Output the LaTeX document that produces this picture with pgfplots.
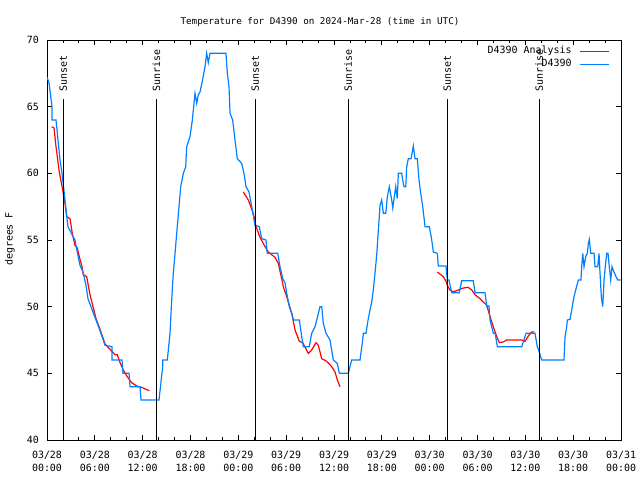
\documentclass[border=0pt]{standalone}
\usepackage{fontspec}
\setmainfont{DejaVu Sans Mono}
\usepackage{pgfplots}
\pgfplotsset{compat=1.18}
\definecolor{dblue}{RGB}{0,128,255}
\definecolor{dred}{RGB}{255,0,0}
\begin{document}
\begin{tikzpicture}[x=1bp,y=1bp]
\useasboundingbox (0,0) rectangle (640,480);
\begin{axis}[
  at={(47bp,40bp)}, anchor=south west,
  scale only axis, width=574bp, height=400bp,
  xmin=0, xmax=72, ymin=40, ymax=70,
  xtick={0,6,...,72},
  minor x tick num=2,
  ytick={40,45,...,70},
  xticklabels={{03/28\\00:00},{03/28\\06:00},{03/28\\12:00},{03/28\\18:00},{03/29\\00:00},{03/29\\06:00},{03/29\\12:00},{03/29\\18:00},{03/30\\00:00},{03/30\\06:00},{03/30\\12:00},{03/30\\18:00},{03/31\\00:00}},
  tick align=inside,
  major tick length=5bp, minor tick length=3bp,
  every tick/.style={black, line width=0.8bp},
  axis line style={black, line width=0.8bp},
  xticklabel style={align=center, inner sep=0pt, yshift=-10.5bp, font=\fontsize{10}{13}\selectfont},
  yticklabel style={inner sep=0pt, xshift=-8bp, font=\fontsize{10}{12}\selectfont},
  /pgf/number format/assume math mode=true,
  unbounded coords=jump,
  legend plot pos=right,
  legend cell align=right,
  legend style={at={(1,1)}, anchor=north east, xshift=-11bp, yshift=-5bp,
    draw=none, fill=none, inner sep=0pt, row sep=0pt,
    font=\fontsize{10}{13}\selectfont,
    nodes={inner sep=0pt, text height=8bp, text depth=5bp},
    /tikz/every odd column/.append style={column sep=8bp}},
  legend image code/.code={\draw[#1] (8bp,0bp) -- (37bp,0bp);},
]
\addplot[color=dred, line width=1.2bp] coordinates {
(0.59,63.5)(0.88,63.4)(1.13,62)(1.54,60.1)(1.97,58.75)(2.26,57.75)(2.47,56.75)(2.89,56.6)(3.17,55.5)(3.51,54.6)(3.80,54.4)(4.05,53.75)(4.39,53)(4.55,52.4)(4.98,52.25)(5.39,50.9)(5.73,50.1)(6.15,49.1)(6.65,48.3)(7.28,47.2)(7.90,46.8)(8.53,46.4)(8.82,46.4)(9.16,45.8)(9.57,45.25)(10.07,44.75)(10.62,44.3)(11.25,44.05)(11.88,43.95)(12.42,43.8)(12.83,43.7)
(12.9,nan)
(24.62,58.6)(25.25,58)(25.88,57)(26.22,56)(26.72,55.2)(27.35,54.5)(27.76,54.1)(28.60,53.7)(29.01,53.25)(29.44,52.1)(29.64,51.5)(30.07,50.75)(30.70,49.5)(31.11,48.25)(31.65,47.4)(32.07,47.3)(32.78,46.5)(33.20,46.75)(33.74,47.3)(34.03,47.1)(34.46,46.1)(35.09,45.9)(35.71,45.5)(36.13,45.1)(36.42,44.5)(36.75,44)
(36.8,nan)
(48.96,52.6)(49.71,52.25)(50.05,51.9)(50.21,51.6)(50.55,51.25)(50.97,51.1)(51.59,51.25)(52.22,51.4)(52.84,51.45)(53.27,51.25)(53.69,50.9)(54.31,50.6)(54.73,50.35)(55.16,50.1)(55.57,49.25)(55.98,48.5)(56.41,47.75)(56.74,47.3)(57.24,47.35)(57.66,47.5)(59.55,47.5)(59.96,47.4)(60.37,47.8)(60.80,48.1)(61.13,48.1)
};
\addlegendentry{D4390 Analysis}
\addplot[color=dblue, line width=1.2bp] coordinates {
(0,67.2)(0.25,66.8)(0.38,66.2)(0.63,65.0)(0.63,64.0)(1.13,64.0)(1.25,63.3)(1.38,62.5)(1.63,61.0)(1.88,60.0)(2.13,58.7)(2.38,57.3)(2.63,56.0)(3.14,55.4)(3.51,55.0)(3.76,54.2)(4.14,53.1)(4.52,52.6)(4.89,51.6)(5.14,50.6)(5.64,49.8)(6.15,49.0)(6.65,48.2)(7.28,47.1)(8.15,47.0)(8.15,46.0)(9.41,46.0)(9.53,45.0)(10.29,45.0)(10.41,44.0)(11.67,44.0)(11.79,43.0)(14.05,43.0)(14.51,45.5)(14.51,46)(15.09,46)(15.43,48)(15.64,50.5)(15.84,52.5)(16.06,54)(16.34,56)(16.56,57.5)(16.77,59)(17.10,60)(17.40,60.5)(17.52,62)(17.94,62.75)(18.23,64)(18.57,66)(18.78,65.25)(18.98,65.9)(19.19,66.1)(19.48,66.9)(19.82,68)(20.03,69)(20.23,68.3)(20.45,69)(22.45,69)(22.62,67.5)(22.83,66.5)(22.96,64.5)(23.29,64)(23.58,62.5)(23.87,61.1)(24.42,60.75)(24.71,60)(24.96,59)(25.34,58.6)(25.68,57.5)(26.09,56.1)(26.63,56)(26.93,55.1)(27.47,55)(27.63,54)(28.94,54)(29.23,53)(29.57,52.1)(29.85,51.8)(30.07,51)(30.39,50)(30.70,49.5)(30.90,49)(31.65,49)(31.95,47.75)(32.15,47)(32.90,47)(33.20,48)(33.62,48.5)(33.83,49)(34.25,50)(34.46,50)(34.66,48.75)(35.00,48)(35.50,47.5)(35.91,46)(36.41,45.75)(36.67,45)(37.79,45)(38.22,46)(39.26,46)(39.60,47.5)(39.68,48)(40.01,48)(40.30,49.1)(40.52,49.75)(40.73,50.35)(40.93,51.25)(41.14,52.5)(41.36,53.9)(41.48,55)(41.65,56.5)(41.77,57.6)(41.98,58)(42.19,57)(42.49,57)(42.69,58.25)(42.94,59)(43.24,58)(43.37,57.4)(43.57,58.25)(43.74,59)(43.94,58.1)(44.07,60)(44.49,60)(44.62,59.5)(44.78,59)(45.00,59)(45.12,60.5)(45.32,61.1)(45.66,61.1)(45.82,61.6)(45.95,62.05)(46.16,61.1)(46.45,61.1)(46.66,59.5)(46.88,58.5)(47.13,57.5)(47.42,56)(47.96,56)(48.26,55)(48.46,54.1)(48.96,54)(49.08,53.05)(50.05,53.05)(50.21,52)(50.42,52)(50.77,51.05)(51.72,51.05)(52.02,51.95)(53.47,51.95)(53.69,51.05)(54.94,51.05)(55.16,50.05)(55.44,50.05)(55.57,49)(55.78,48.5)(55.98,48)(56.21,48)(56.49,47)(59.55,47)(60.09,48)(61.21,48)(61.50,47)(61.75,46.6)(62.05,46)(64.85,46)(64.98,47.75)(65.19,48.5)(65.27,49)(65.60,49.05)(65.82,49.75)(66.02,50.5)(66.23,51.05)(66.65,52)(66.98,52)(67.07,53)(67.20,54)(67.36,53)(67.57,53.75)(67.78,54)(67.90,54.75)(68.03,55.05)(68.20,54)(68.62,54)(68.74,53)(69.08,53)(69.24,54)(69.37,52.5)(69.53,50.75)(69.71,50)(69.87,52)(70.03,53)(70.21,54)(70.37,54)(70.53,53)(70.71,52)(70.87,53)(71.12,52.6)(71.37,52.25)(71.59,52)(71.96,52)
};
\addlegendentry{D4390}
% sunset / sunrise markers
\addplot[black, line width=0.8bp, forget plot] coordinates {(2.05,40)(2.05,65.55)};
\addplot[black, line width=0.8bp, forget plot] coordinates {(13.72,40)(13.72,65.55)};
\addplot[black, line width=0.8bp, forget plot] coordinates {(26.12,40)(26.12,65.55)};
\addplot[black, line width=0.8bp, forget plot] coordinates {(37.79,40)(37.79,65.55)};
\addplot[black, line width=0.8bp, forget plot] coordinates {(50.2,40)(50.2,65.55)};
\addplot[black, line width=0.8bp, forget plot] coordinates {(61.74,40)(61.74,65.55)};
\node[rotate=90, anchor=west, inner sep=0pt, font=\fontsize{10}{12}\selectfont] at (axis cs:2.05,66.1) {Sunset};
\node[rotate=90, anchor=west, inner sep=0pt, font=\fontsize{10}{12}\selectfont] at (axis cs:13.72,66.1) {Sunrise};
\node[rotate=90, anchor=west, inner sep=0pt, font=\fontsize{10}{12}\selectfont] at (axis cs:26.12,66.1) {Sunset};
\node[rotate=90, anchor=west, inner sep=0pt, font=\fontsize{10}{12}\selectfont] at (axis cs:37.79,66.1) {Sunrise};
\node[rotate=90, anchor=west, inner sep=0pt, font=\fontsize{10}{12}\selectfont] at (axis cs:50.2,66.1) {Sunset};
\node[rotate=90, anchor=west, inner sep=0pt, font=\fontsize{10}{12}\selectfont] at (axis cs:61.74,66.1) {Sunrise};
\end{axis}
\node[font=\fontsize{9.3}{11}\selectfont] at (320,458) {Temperature for D4390 on 2024-Mar-28 (time in UTC)};
\node[rotate=90, font=\fontsize{10}{12}\selectfont] at (10,241) {degrees F};
\end{tikzpicture}
\end{document}
